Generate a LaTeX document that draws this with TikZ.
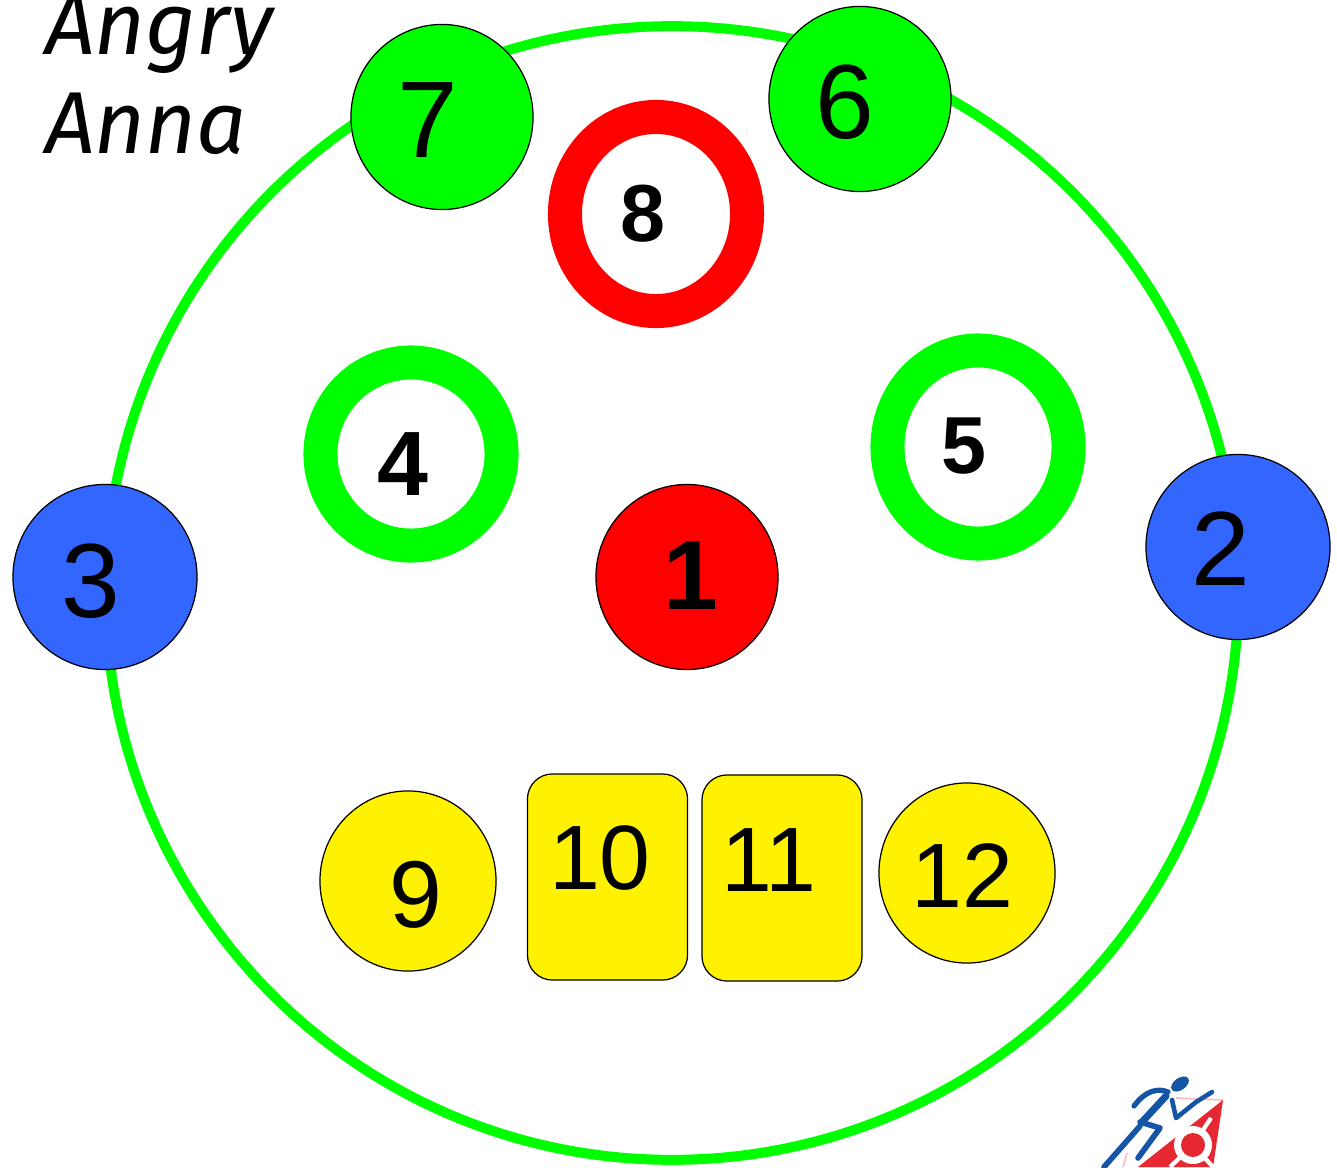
\documentclass[tikz,border=0pt]{standalone}
\usepackage{fontspec}
\setmainfont{Liberation Sans}
\newfontfamily\handfont{Fira Sans}
\usetikzlibrary{shapes.geometric}
\definecolor{ringgreen}{RGB}{0,255,0}
\definecolor{ballblue}{RGB}{51,102,255}
\definecolor{logoblue}{RGB}{20,85,165}
\definecolor{logored}{RGB}{230,40,50}
\def\ballsize{182}
\tikzset{
  ball/.style={ellipse,draw=black,line width=.35pt,inner sep=0,outer sep=0},
  ring/.style={ellipse,draw=ringgreen,line width=.34cm,fill=white,inner sep=0,outer sep=0},
  tooth/.style={rectangle,rounded corners=.25cm,draw=black,line width=.35pt,fill=yellow,inner sep=0,outer sep=0,minimum width=1.6cm,minimum height=2.06cm},
  num/.style={inner sep=0,outer sep=0,text=black},
  runner/.style={draw=logoblue,line cap=round,line join=round}
}

\begin{document}
\begin{tikzpicture}[x=.01cm,y=-.01cm]
\useasboundingbox (0,0) rectangle (1337,1167);

% outer line
\node[ellipse,draw=ringgreen,line width=.1cm,inner sep=0,outer sep=0,minimum width=11.32cm,minimum height=11.33cm] (track) at (672,593) {};

\node[ball,fill=ringgreen,minimum width=1.82cm,minimum height=1.85cm] (B7) at (442,117) {};
\node[ball,fill=ringgreen,minimum width=1.82cm,minimum height=1.85cm] (B6) at (860,99) {};
\node[ball,fill=ballblue,minimum width=1.84cm,minimum height=1.85cm] (B3) at (105,577) {};
\node[ball,fill=ballblue,minimum width=1.84cm,minimum height=1.85cm] (B2) at (1238,547) {};
\node[ball,fill=red,minimum width=1.82cm,minimum height=1.85cm] (B1) at (687,577) {};

\node[ring,draw=red,minimum width=1.82cm,minimum height=1.94cm] (B8) at (656,214) {};
\node[ring,minimum width=1.81cm,minimum height=1.83cm] (B4) at (411,454) {};
\node[ring,minimum width=1.81cm,minimum height=1.93cm] (B5) at (978,447) {};

\node[ball,fill=yellow,minimum width=1.76cm,minimum height=1.8cm] (B9) at (408,881) {};
\node[ball,fill=yellow,minimum width=1.76cm,minimum height=1.8cm] (B12) at (967,873) {};
\node[tooth] (B10) at (607.5,877) {};
\node[tooth] (B11) at (782,878) {};

\node[num,font=\fontsize{31}{31}\selectfont] (N7) at (428,120) {7};
\node[num,font=\fontsize{30}{30}\selectfont] (N6) at (845,102) {6};
\node[num,font=\fontsize{30}{30}\selectfont] (N3) at (91,581) {3};
\node[num,font=\fontsize{30}{30}\selectfont] (N2) at (1221,549) {2};
\node[num,font=\fontsize{28}{28}\selectfont\bfseries] (N1) at (691,576) {1};
\node[num,font=\fontsize{23}{23}\selectfont\bfseries] (N8) at (643,214) {8};
\node[num,font=\fontsize{26}{26}\selectfont\bfseries] (N4) at (403,464) {4};
\node[num,font=\fontsize{23}{23}\selectfont\bfseries] (N5) at (964,446) {5};
\node[num,font=\fontsize{27}{27}\selectfont] (N9) at (416,895) {9};
\node[num,font=\fontsize{26}{26}\selectfont] (N10) at (600,858) {10};
\node[num,font=\fontsize{26}{26}\selectfont] (N11) at (769,860) {11};
\node[num,font=\fontsize{26}{26}\selectfont] (N12) at (962,876) {12};

\node[num,anchor=base west,font=\handfont\itshape\fontsize{25}{25}\selectfont] (T1) at (45,55) {Angry};
\node[num,anchor=base west,font=\handfont\itshape\fontsize{25}{25}\selectfont] (T2) at (45,154) {Anna};

% logo
\draw[logored!30,line width=.5pt] (1176,1098) -- (1223,1100) (1123,1167) -- (1127,1153);
\fill[logored] (1223,1100) -- (1213,1167) -- (1138,1167) -- cycle;
\fill[white] (1193,1145) circle (19);
\draw[white,line width=1.2pt] (1193,1145) -- (1211,1118) (1193,1145) -- (1213,1167) (1193,1145) -- (1170,1167);
\fill[logored] (1193,1145) circle (12);
\fill[logoblue,rotate around={35:(1180,1084)}] (1180,1084) ellipse (10 and 6);
\draw[runner,line width=1.5pt] (1134,1106) .. controls (1146,1090) and (1158,1088) .. (1168,1092);
\draw[runner,line width=2pt] (1166,1096) -- (1142,1122);
\draw[runner,line width=1.3pt] (1172,1100) -- (1176,1118) -- (1196,1102) -- (1212,1092);
\draw[runner,line width=1.6pt] (1140,1122) -- (1160,1128) -- (1138,1158);
\draw[runner,line width=1.6pt] (1140,1126) -- (1104,1167);
\end{tikzpicture}
\end{document}
